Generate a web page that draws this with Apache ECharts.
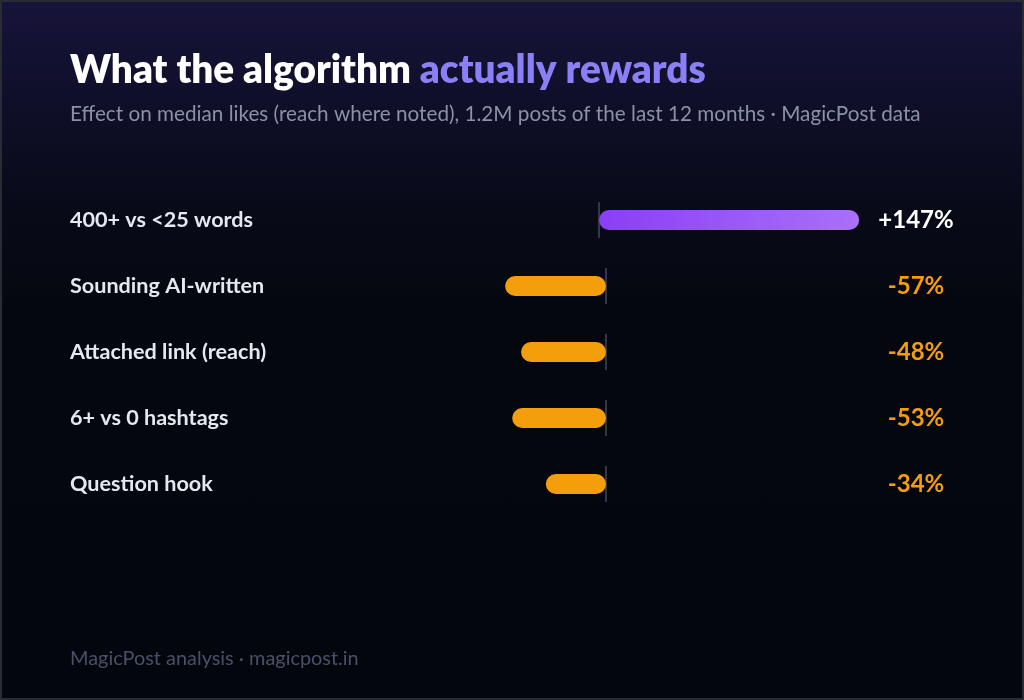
<!DOCTYPE html>
<html>
<head>
<meta charset="utf-8">
<script src="https://cdn.jsdelivr.net/npm/echarts@6/dist/echarts.min.js"></script>
<style>
  html, body { margin: 0; padding: 0; background: #04060e; }
  #chart {
    width: 1024px; height: 700px;
    background: linear-gradient(180deg, #17143a 0%, #100f2a 14%, #080a18 30%, #05070f 45%, #04060e 100%);
    box-shadow: inset 0 0 0 2px #2a2c34;
  }
</style>
</head>
<body>
<div id="chart"></div>
<script>
// ---- data ----
const categories = ['400+ vs <25 words', 'Sounding AI-written', 'Attached link (reach)', '6+ vs 0 hashtags', 'Question hook'];
const values = [147, -57, -48, -53, -34];
const valueLabels = ['+147%', '-57%', '-48%', '-53%', '-34%'];

const chart = echarts.init(document.getElementById('chart'), null, { renderer: 'canvas' });
const FONT = 'Lato, "Noto Sans", sans-serif';
const XMIN = -100, XMAX = 150;
const W = (XMAX - XMIN) * 1.77;

const groups = [
  { idx: [0], top: 187, height: 66, zeroX: 599 },
  { idx: [1, 2, 3, 4], top: 253, height: 264, zeroX: 606 }
];

const grids = [], xAxes = [], yAxes = [], series = [];
groups.forEach((g, gi) => {
  const left = g.zeroX - (0 - XMIN) * 1.77;
  grids.push({ left: left, width: W, top: g.top, height: g.height });
  xAxes.push({ gridIndex: gi, type: 'value', min: XMIN, max: XMAX, show: false });
  yAxes.push({
    gridIndex: gi, type: 'category', data: g.idx.map(i => categories[i]), inverse: true,
    axisLine: { show: false }, axisTick: { show: false }, splitLine: { show: false },
    axisLabel: {
      color: '#e6e8f0', fontFamily: FONT, fontSize: 21.6, fontWeight: 'bold',
      align: 'left', margin: left - 70
    }
  });
  yAxes.push({
    gridIndex: gi, type: 'category', data: g.idx.map(i => valueLabels[i]), inverse: true,
    position: 'right',
    axisLine: { show: false }, axisTick: { show: false }, splitLine: { show: false },
    axisLabel: {
      fontFamily: FONT, fontSize: 24, fontWeight: 'bold', align: 'center',
      margin: 916 - (left + W),
      color: (v) => v.startsWith('+') ? '#ffffff' : '#f59e0b'
    }
  });
  series.push({
    type: 'scatter', xAxisIndex: gi, yAxisIndex: gi * 2, silent: true, z: 1,
    symbol: 'rect', symbolSize: [2, 36],
    itemStyle: { color: '#3d4458' },
    data: g.idx.map(i => [0, categories[i]])
  });
  series.push({
    type: 'bar', xAxisIndex: gi, yAxisIndex: gi * 2, silent: true, z: 2,
    barWidth: 20,
    data: g.idx.map(i => ({
      value: [values[i], categories[i]],
      itemStyle: values[i] >= 0 ? {
        color: new echarts.graphic.LinearGradient(0, 0, 1, 0, [
          { offset: 0, color: '#8a3ff5' }, { offset: 1, color: '#a970f8' }
        ]),
        borderRadius: 10
      } : { color: '#f59e0b', borderRadius: 10 }
    })),
    encode: { x: 0, y: 1 }
  });
});

chart.setOption({
  backgroundColor: 'transparent',
  animation: false,
  grid: grids, xAxis: xAxes, yAxis: yAxes, series: series,
  graphic: [
    {
      type: 'text', x: 70, y: 71,
      style: {
        text: '{a|What the algorithm }{b|actually rewards}',
        verticalAlign: 'middle',
        rich: {
          a: { fontFamily: FONT, fontSize: 38.7, fontWeight: 800, fill: '#ffffff' },
          b: { fontFamily: FONT, fontSize: 38.7, fontWeight: 800, fill: '#8b7ff6' }
        }
      }
    },
    {
      type: 'text', x: 70, y: 114,
      style: { text: 'Effect on median likes (reach where noted), 1.2M posts of the last 12 months · MagicPost data',
        verticalAlign: 'middle', fontFamily: FONT, fontSize: 20.7, fill: '#8a91a8' }
    },
    {
      type: 'text', x: 70, y: 659,
      style: { text: 'MagicPost analysis · magicpost.in', verticalAlign: 'middle', fontFamily: FONT, fontSize: 19.9, fill: '#4a5068' }
    }
  ]
});
</script>
</body>
</html>
